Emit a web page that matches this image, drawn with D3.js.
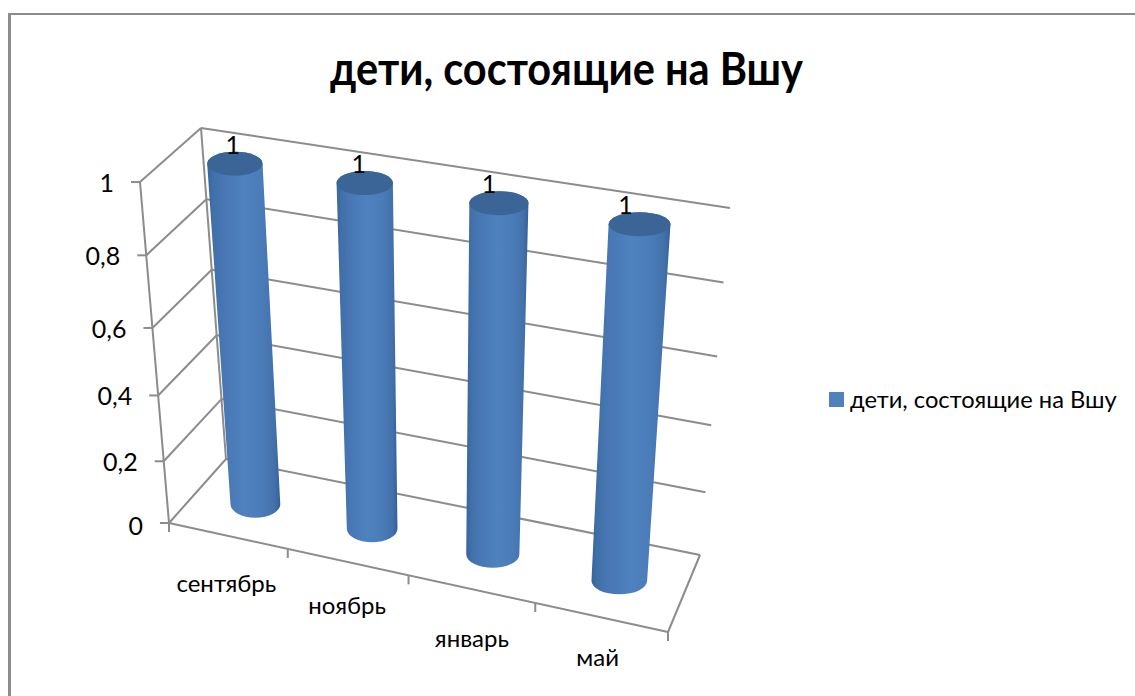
<!DOCTYPE html>
<html><head><meta charset="utf-8">
<script src="https://cdn.jsdelivr.net/npm/d3@7"></script>
<style>
html,body{margin:0;padding:0;background:#fff;}
svg{display:block;}
text{font-family:Lato,"Noto Sans",sans-serif;fill:#000;}
</style></head><body>
<svg id="c" width="1135" height="696"></svg>
<script>
const categories = ["сентябрь","ноябрь","январь","май"];
const seriesName = "дети, состоящие на Вшу";
const seriesValues = [1,1,1,1];
const yTicks = [0,0.2,0.4,0.6,0.8,1];
const yTickLabels = ["0","0,2","0,4","0,6","0,8","1"];
const title = "дети, состоящие на Вшу";

const svg = d3.select("#c");
const GRID="#8c8c8c";
// box corners on screen (perspective frame)
const C={FBL:[169,523],FBR:[668,632],BBL:[226,459],BBR:[700,555],FTL:[140,182],FTR:[693,264],BTL:[201,128],BTR:[730,208]};
// perspective warps
const uScale=d3.scaleLinear().domain([0,1,2,3,4]).range([0,.238,.48,.734,1]);
const vScale=d3.scaleLinear().domain(yTicks).range([0,.181,.374,.572,.785,1]);
const lerp=(a,b,t)=>[a[0]+(b[0]-a[0])*t,a[1]+(b[1]-a[1])*t];
function project(i,val,w){
  const u=uScale(i),v=vScale(val);
  const bot=lerp(lerp(C.FBL,C.FBR,u),lerp(C.BBL,C.BBR,u),w);
  const top=lerp(lerp([140,182],[683,264],u),lerp(C.BTL,C.BTR,u),w);
  return lerp(bot,top,v);
}
function projectBar(i,val){
  const u=uScale(i),v=vScale(val);
  const bot=lerp(lerp(C.FBL,C.FBR,u),lerp(C.BBL,C.BBR,u),.5);
  const top=lerp(lerp(C.FTL,C.FTR,u),lerp(C.BTL,C.BTR,u),.5);
  return lerp(bot,top,v);
}
const defs=svg.append("defs");
const blur=defs.append("filter").attr("id","soft").attr("x","-5%").attr("y","-5%").attr("width","110%").attr("height","110%");
blur.append("feGaussianBlur").attr("stdDeviation",0.7);
const grad=defs.append("linearGradient").attr("id","cyl").attr("x1",0).attr("x2",1).attr("y1",0).attr("y2",0);
[[0,"#36649b"],[.07,"#406fa9"],[.2,"#4776b2"],[.5,"#4f82bf"],[.75,"#4b7cb8"],[.92,"#4271ab"],[1,"#365f95"]].forEach(s=>grad.append("stop").attr("offset",s[0]).attr("stop-color",s[1]));

// chart frame: top and left edges only
svg.append("line").attr("x1",8).attr("x2",1135).attr("y1",14).attr("y2",14).attr("stroke",GRID).attr("stroke-width",2);
svg.append("line").attr("x1",9.5).attr("x2",9.5).attr("y1",13).attr("y2",696).attr("stroke",GRID).attr("stroke-width",3);

const line=(a,b)=>svg.append("line").attr("x1",a[0]).attr("y1",a[1]).attr("x2",b[0]).attr("y2",b[1]).attr("stroke",GRID).attr("stroke-width",2);
// gridlines, walls
yTicks.forEach((t,k)=>{
  const f=project(0,t,0),b=project(0,t,1),r=project(4,t,1);
  line(f,b);line(b,r);
  line([f[0]-9,f[1]],f);
  svg.append("text").attr("x",f[0]-26).attr("y",f[1]+10+(t===0?2:0)).attr("text-anchor","end").attr("font-size",25).text(yTickLabels[k]);
});
line(project(0,0,0),project(0,1,0));
line(project(0,0,1),project(0,1,1));
line(project(0,0,0),project(4,0,0));
line(project(4,0,0),project(4,0,1));
d3.range(5).forEach(i=>{const p=project(i,0,0);line(p,[p[0],p[1]+9]);});

// cylinders
const rIdx=0.215;
const labDx=[2,1,0,4], labDy=[56,52,58,48];
categories.forEach((c,i)=>{
  const idx=i+.5, val=seriesValues[i];
  const bc=projectBar(idx,0), tc=projectBar(idx,val);
  bc[1]+=1; tc[1]-=1;
  const rb=(projectBar(idx+rIdx,0)[0]-projectBar(idx-rIdx,0)[0])/2;
  const rt=(projectBar(idx+rIdx,val)[0]-projectBar(idx-rIdx,val)[0])/2;
  const ryb=13.5,ryt=12;
  const g=svg.append("g").attr("filter","url(#soft)");
  g.append("path").attr("fill","url(#cyl)")
   .attr("d",`M${tc[0]-rt},${tc[1]}L${bc[0]-rb},${bc[1]}A${rb},${ryb} 0 0 0 ${bc[0]+rb},${bc[1]}L${tc[0]+rt},${tc[1]}A${rt},${ryt} 0 0 0 ${tc[0]-rt},${tc[1]}Z`);
  g.append("ellipse").attr("cx",tc[0]).attr("cy",tc[1]).attr("rx",rt).attr("ry",ryt).attr("fill","#3a6596");
  svg.append("text").attr("x",tc[0]-2-4*i).attr("y",tc[1]-10).attr("text-anchor","middle").attr("font-size",25).text(val);
  const lab=project(idx,0,0);
  svg.append("text").attr("x",lab[0]-labDx[i]).attr("y",lab[1]+labDy[i]).attr("text-anchor","middle").attr("font-size",24).text(c);
});

svg.append("text").attr("x",566.5).attr("y",85).attr("text-anchor","middle").attr("font-size",46).attr("font-weight",700).attr("textLength",473).attr("lengthAdjust","spacingAndGlyphs").text(title);
svg.append("rect").attr("x",829).attr("y",392).attr("width",15).attr("height",15).attr("fill","#4f81bd");
svg.append("text").attr("x",850).attr("y",408).attr("font-size",23.7).text(seriesName);
</script></body></html>
